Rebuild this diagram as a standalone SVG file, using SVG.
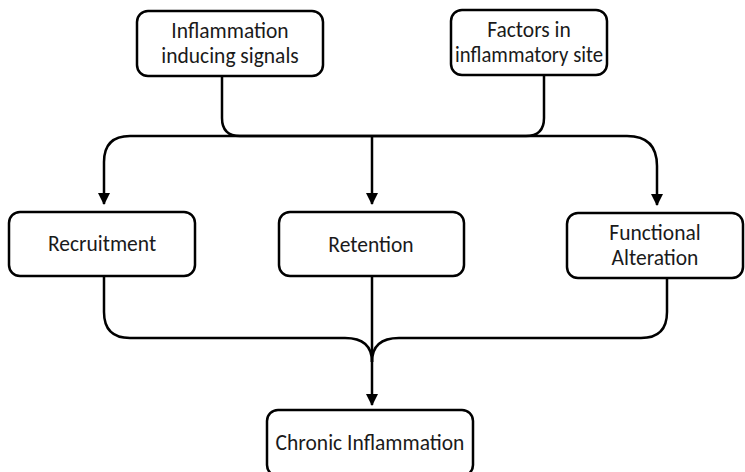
<svg xmlns="http://www.w3.org/2000/svg" width="745" height="472" viewBox="0 0 745 472">
<defs>
<marker id="arr" markerWidth="12" markerHeight="12" refX="11" refY="6" orient="auto" markerUnits="userSpaceOnUse">
<path d="M0,0 L12,6 L0,12 Z" fill="#000"/>
</marker>
<style>
.box{fill:#fff;stroke:#000;stroke-width:2.5}
.lbl{font-family:Carlito,Lato,"Liberation Sans",sans-serif;font-size:21.5px;fill:#1a1a1a;text-anchor:middle;dominant-baseline:central}
.ln{fill:none;stroke:#000;stroke-width:2.5}
</style>
</defs>
<rect width="745" height="472" fill="#fff"/>
<g id="connectors">
<path class="ln" d="M222,76 V118 Q222,136 240,136 H526 Q544,136 544,118 V75"/>
<path class="ln" marker-end="url(#arr)" d="M372,136 H130 Q104,136 104,162 V204"/>
<path class="ln" marker-end="url(#arr)" d="M372,136 V204"/>
<path class="ln" marker-end="url(#arr)" d="M372,136 H627 Q657,136 657,166 V205"/>
<path class="ln" d="M104,276 V312 Q104,338 130,338 H345 Q372,338 372,362"/>
<path class="ln" d="M667,278 V312 Q667,338 641,338 H399 Q372,338 372,362"/>
<path class="ln" marker-end="url(#arr)" d="M372,276 V405"/>
</g>
<g id="n1">
<rect class="box" x="137" y="11" width="186" height="65" rx="11"/>
<text class="lbl" x="230" y="31">Inflammation</text>
<text class="lbl" x="230" y="56">inducing signals</text>
</g>
<g id="n2">
<rect class="box" x="451" y="10" width="156" height="65" rx="11"/>
<text class="lbl" x="529" y="30">Factors in</text>
<text class="lbl" x="529" y="55" textLength="148" lengthAdjust="spacingAndGlyphs">inflammatory site</text>
</g>
<g id="n3">
<rect class="box" x="9" y="212" width="186" height="64" rx="11"/>
<text class="lbl" x="102" y="244">Recruitment</text>
</g>
<g id="n4">
<rect class="box" x="279" y="212" width="185" height="64" rx="11"/>
<text class="lbl" x="371" y="245">Retention</text>
</g>
<g id="n5">
<rect class="box" x="567" y="213" width="176" height="65" rx="11"/>
<text class="lbl" x="655" y="233">Functional</text>
<text class="lbl" x="655" y="258">Alteration</text>
</g>
<g id="n6">
<rect class="box" x="267" y="410" width="206" height="66" rx="11"/>
<text class="lbl" x="370" y="443">Chronic Inflammation</text>
</g>
</svg>
